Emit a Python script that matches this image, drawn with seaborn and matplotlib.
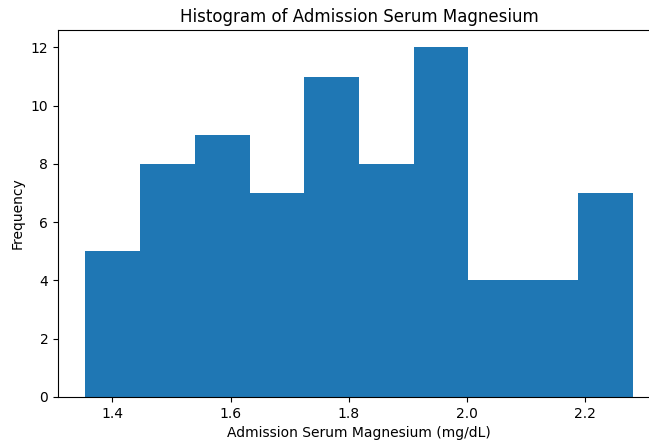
import matplotlib
matplotlib.use("Agg")
import matplotlib.pyplot as plt
import seaborn as sns
import numpy as np
import pandas as pd

# Histogram bin edges (mg/dL) and counts
bin_edges = [1.354, 1.4467, 1.5394, 1.6321, 1.7248, 1.8175, 1.9102, 2.0029, 2.0956, 2.1883, 2.281]
counts = [5, 8, 9, 7, 11, 8, 12, 4, 4, 7]
title = "Histogram of Admission Serum Magnesium"
xlabel = "Admission Serum Magnesium (mg/dL)"
ylabel = "Frequency"

edges = np.array(bin_edges)
centers = (edges[:-1] + edges[1:]) / 2
df = pd.DataFrame({"mg": centers, "n": counts})

fig = plt.figure(figsize=(6.49, 4.42), dpi=100)
ax = fig.add_axes([58 / 649, 45 / 442, 602 / 649, 367 / 442])
sns.histplot(data=df, x="mg", weights="n", bins=list(bin_edges), color="#1f77b4",
             alpha=1, edgecolor="none", linewidth=0, ax=ax)
ax.set_xlim(1.3077, 2.3273)
ax.set_ylim(0, 12.6)
ax.set_xticks([1.4, 1.6, 1.8, 2.0, 2.2])
ax.set_yticks([0, 2, 4, 6, 8, 10, 12])
ax.set_title(title, fontsize=12)
ax.set_xlabel(xlabel, fontsize=10)
ax.set_ylabel(ylabel, fontsize=10)
fig.savefig("out.png", dpi=100)
